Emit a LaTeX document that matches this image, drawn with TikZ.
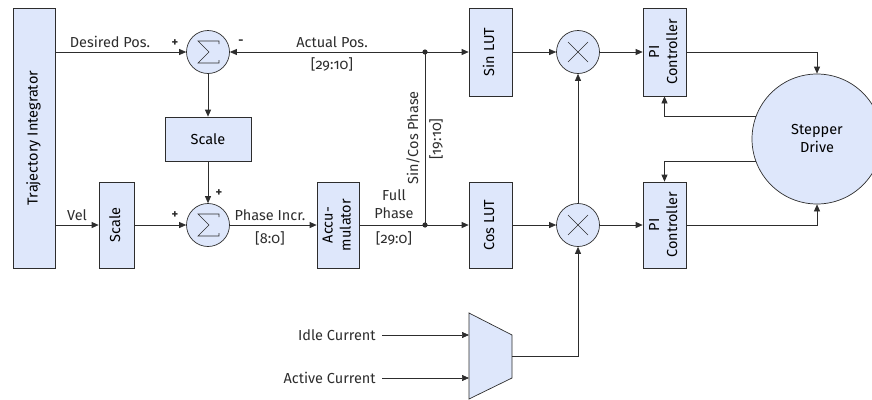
\documentclass[tikz,border=0pt]{standalone}
\usepackage{fontspec}
\setmainfont[Numbers=OldStyle]{Fira Sans}
\usetikzlibrary{arrows.meta}
\definecolor{blockfill}{RGB}{222,231,251}
\definecolor{linegray}{RGB}{45,45,45}
\newcommand{\vtext}[1]{\rotatebox{90}{\begin{tabular}{@{}c@{}}#1\end{tabular}}}

\begin{document}
\begin{tikzpicture}[x=1pt,y=-1pt,line width=0.7pt,
    font=\fontsize{14.5}{18}\selectfont,
    block/.style={draw=linegray,fill=blockfill,inner sep=0pt,align=center},
    sumnode/.style={draw=linegray,fill=blockfill,circle,minimum size=43pt,inner sep=0pt},
    wire/.style={draw=linegray,-{Triangle[length=7pt,width=6pt]}},
    plain/.style={draw=linegray},
    lbl/.style={inner sep=1pt,text=linegray},
    sign/.style={inner sep=1pt,text=linegray,font=\fontsize{12.5}{14}\selectfont\bfseries}]
                \useasboundingbox (0,0) rectangle (872,399);

                % blocks
                \node[block,minimum width=42pt,minimum height=260pt] (traj) at (34,138) {\vtext{Trajectory Integrator}};
                \node[block,minimum width=86pt,minimum height=44pt] (scaleA) at (208,139) {Scale};
                \node[block,minimum width=35pt,minimum height=86pt] (scaleB) at (116.5,225) {\vtext{Scale}};
                \node[block,minimum width=42pt,minimum height=86pt] (accu) at (338,225) {\vtext{Accu-\\mulator}};
                \node[block,minimum width=43pt,minimum height=88pt] (sinlut) at (490.5,52) {\vtext{Sin LUT}};
                \node[block,minimum width=43pt,minimum height=86pt] (coslut) at (490.5,225) {\vtext{Cos LUT}};
                \node[block,minimum width=43pt,minimum height=88pt] (piA) at (664.5,52) {\vtext{PI\\Controller}};
                \node[block,minimum width=43pt,minimum height=86pt] (piB) at (664.5,225) {\vtext{PI\\Controller}};
                \node[block,circle,minimum size=130pt] (drive) at (817,139) {Stepper\\Drive};

                % summing and mixing points
                \node[sumnode] (sumA) at (208,52) {};
                \node[sumnode] (sumB) at (208,225) {};
                \node[sumnode] (mulA) at (578,52) {};
                \node[sumnode] (mulB) at (578,225) {};
                \foreach \s in {sumA,sumB}
                    \draw[plain,line width=0.6pt] ([shift={(11,-8)}]\s.center) -- ++(0,-3) -- ++(-21,0)
                        -- ++(11,11) -- ++(-11,11) -- ++(21,0) -- ++(0,-3);
                \foreach \s in {mulA,mulB} {
                    \draw[plain,line width=0.6pt] ([shift={(-10,-10)}]\s.center) -- ++(20,20);
                    \draw[plain,line width=0.6pt] ([shift={(-10,10)}]\s.center) -- ++(20,-20);
                }

                % mux
                \draw[plain,fill=blockfill] (469,313) -- (512,335) -- (512,378) -- (469,399) -- cycle;
                \coordinate (muxIdle) at (469,335);
                \coordinate (muxActive) at (469,378);
                \coordinate (muxOut) at (512,356.5);

                % junctions
                \coordinate (jTop) at (425,52);
                \coordinate (jBot) at (425,225);
                \fill[linegray] (jTop) circle (2.6pt);
                \fill[linegray] (jBot) circle (2.6pt);

                % labels
                \node[lbl] (lblDesired) at (110,42) {Desired Pos.};
                \node[sign] (lblPlusA) at (175,43) {+};
                \node[sign] (lblMinus) at (241,42) {-};
                \node[lbl] (lblActual) at (332,42) {Actual Pos.};
                \node[lbl] (lblActualBits) at (332,64) {[29:10]};
                \node[sign] (lblPlusB) at (219,193) {+};
                \node[sign] (lblPlusC) at (175,215) {+};
                \node[lbl] (lblVel) at (77,215) {Vel};
                \node[lbl] (lblIncr) at (270,215) {Phase Incr.};
                \node[lbl] (lblIncrBits) at (270,238) {[8:0]};
                \node[lbl,align=center] (lblFull) at (394,204) {Full\\Phase};
                \node[lbl] (lblFullBits) at (394,238) {[29:0]};
                \node[lbl,rotate=90] (lblSinCos) at (413,138) {Sin/Cos Phase};
                \node[lbl,rotate=90] (lblSinCosBits) at (436,139) {[19:10]};
                \node[lbl,anchor=east,inner xsep=6pt] (idle) at (382,335) {Idle Current};
                \node[lbl,anchor=east,inner xsep=6pt] (active) at (382,378) {Active Current};

                % connectors
                \draw[wire] (traj.east |- sumA) -- (sumA.west);
                \draw[wire] (traj.east |- scaleB) -- (scaleB.west);
                \draw[wire] (scaleB.east) -- (sumB.west);
                \draw[wire] (sumA.south) -- (scaleA.north);
                \draw[wire] (scaleA.south) -- (sumB.north);
                \draw[wire] (sumB.east) -- (accu.west);
                \draw[plain] (accu.east) -- (jBot);
                \draw[plain] (jBot) -- (jTop);
                \draw[wire] (jBot) -- (coslut.west);
                \draw[wire] (jTop) -- (sinlut.west);
                \draw[wire] (jTop) -- (sumA.east);
                \draw[wire] (sinlut.east) -- (mulA.west);
                \draw[wire] (coslut.east) -- (mulB.west);
                \draw[wire] (mulA.east) -- (piA.west);
                \draw[wire] (mulB.east) -- (piB.west);
                \draw[wire] (mulB.north) -- (mulA.south);
                \draw[wire] (muxOut) -| (mulB.south);
                \draw[wire] (piA.east) -| (drive.north);
                \draw[wire] (piB.east) -| (drive.south);
                \draw[wire] (drive.160) -| (piA.south);
                \draw[wire] (drive.200) -| (piB.north);
                \draw[wire] (idle.east) -- (muxIdle);
                \draw[wire] (active.east) -- (muxActive);
\end{tikzpicture}
\end{document}
